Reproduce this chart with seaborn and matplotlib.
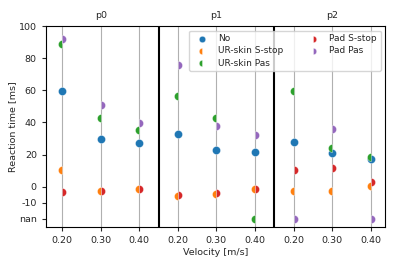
import numpy as np
import pandas as pd
import matplotlib
matplotlib.use("Agg")
import matplotlib.pyplot as plt
from matplotlib.markers import MarkerStyle
import seaborn as sns

sns.set_style("white")
plt.rcParams['font.family'] = ['DejaVu Sans']
plt.rcParams['font.size'] = 6.8

participants = ['p0', 'p1', 'p2']
velocities = ['0.20', '0.30', '0.40']
conditions = ['No', 'UR-skin S-stop', 'UR-skin Pas', 'Pad S-stop', 'Pad Pas']
fills = ['full', 'left', 'left', 'right', 'right']
colors = ['#1f77b4', '#ff7f0e', '#2ca02c', '#d62728', '#9467bd']

# reaction times [ms], one row per participant, one column per velocity
rt_no = [[59.5, 29.5, 27.3], [32.9, 22.8, 21.7], [27.8, 20.7, 17.0]]
rt_ur_sstop = [[10.3, -2.4, -1.3], [-6.0, -4.5, -1.4], [-2.5, -2.7, 0.2]]
rt_ur_pas = [[89.0, 42.9, 35.6], [56.7, 43.0, np.nan], [59.6, 24.0, 18.2]]
rt_pad_sstop = [[-3.1, -2.5, -1.5], [-5.0, -3.7, -1.4], [10.6, 11.4, 2.9]]
rt_pad_pas = [[91.7, 50.9, 39.8], [75.6, 37.5, 32.3], [np.nan, 36.2, np.nan]]

nan_pos = -20  # where missing values are shown

rows = []
for cond, vals in zip(conditions, [rt_no, rt_ur_sstop, rt_ur_pas, rt_pad_sstop, rt_pad_pas]):
    for i, p in enumerate(participants):
        for j, v in enumerate(velocities):
            rows.append({'condition': cond, 'participant': p, 'velocity': v,
                         'pos': i * len(velocities) + j, 'rt': vals[i][j]})
df = pd.DataFrame(rows)
df['rt_plot'] = df['rt'].fillna(nan_pos)

fig, ax = plt.subplots(figsize=(3.99, 2.66), dpi=100)
fig.subplots_adjust(left=0.115, right=0.965, top=0.902, bottom=0.147)

for cond, fs, col in zip(conditions, fills, colors):
    sub = df[df['condition'] == cond]
    sns.scatterplot(data=sub, x='pos', y='rt_plot', ax=ax, color=col,
                    marker=MarkerStyle('o', fillstyle=fs), s=34,
                    edgecolor='white', linewidth=0.25, label=cond, zorder=3)

ax.set_xticks(range(len(participants) * len(velocities)))
ax.set_xticklabels(velocities * len(participants))
ax.set_xlim(-0.42, 8.37)
ax.set_ylim(-25, 100)
ax.set_yticks([-20, -10, 0, 20, 40, 60, 80, 100])
ax.set_yticklabels(['nan', '-10', '0', '20', '40', '60', '80', '100'])
ax.tick_params(axis='both', length=3, width=0.8, direction='out', bottom=True, left=True)
ax.grid(axis='x', color='#b0b0b0', linewidth=0.8)
ax.grid(axis='y', visible=False)
for sp in ax.spines.values():
    sp.set_color('black')
    sp.set_linewidth(0.8)

for k in range(1, len(participants)):
    ax.axvline(k * len(velocities) - 0.5, color='black', linewidth=1.5, zorder=2.5)
for i, p in enumerate(participants):
    ax.text(i * len(velocities) + 1, 103.5, p, ha='center', va='bottom')

ax.set_xlabel('Velocity [m/s]', labelpad=2)
ax.set_ylabel('Reaction time [ms]', labelpad=1)
ax.legend(loc='upper right', ncol=2, fontsize=6.5, labelspacing=0.35,
          handletextpad=0.8, columnspacing=2.3, markerscale=0.8)

plt.savefig('out.png', dpi=100)
